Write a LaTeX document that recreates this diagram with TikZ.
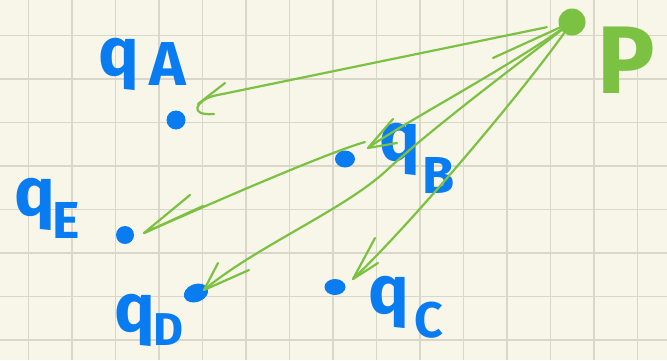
\documentclass[tikz,border=0pt]{standalone}
\usepackage{fontspec}
\setmainfont{Fira Sans}
\usetikzlibrary{shapes.geometric}
\definecolor{PaperCream}{HTML}{F8F5E9}
\definecolor{GridGray}{HTML}{DAD6C9}
\definecolor{InkBlue}{HTML}{0A7CF2}
\definecolor{InkGreen}{HTML}{7CC242}

\begin{document}
\begin{tikzpicture}[x=1pt,y=-1pt,
  dot/.style={circle, fill=InkBlue, inner sep=0pt, minimum size=19pt},
  blob/.style={ellipse, fill=InkBlue, inner sep=0pt},
  ink/.style={InkGreen, line width=2.2pt, line cap=round, line join=round},
  lbl/.style={InkBlue, font=\bfseries\fontsize{68}{68}\selectfont,
              inner sep=0pt, anchor=base west}]
  % Paper and grid
  \fill[PaperCream] (0,0) rectangle (667,360);
  \useasboundingbox (0,0) rectangle (667,360);
  \foreach \i in {0,...,14}
    \draw[GridGray, line width=1.5pt] (28.7+43.5*\i,0) -- (28.7+43.5*\i,360);
  \foreach \j in {0,...,7}
    \draw[GridGray, line width=1.5pt] (0,35.7+43.5*\j) -- (667,35.7+43.5*\j);
  % Points
  \node[circle, fill=InkGreen, inner sep=0pt, minimum size=27pt] (P) at (572,22) {};
  \node[dot] (qA) at (176,120) {};
  \node[blob, minimum width=20pt, minimum height=17pt] (qB) at (345,159) {};
  \node[dot, minimum size=18pt] (qE) at (125,235) {};
  \node[blob, minimum width=25pt, minimum height=18pt, rotate=20] (qD) at (196,293) {};
  \node[blob, minimum width=21pt, minimum height=16pt] (qC) at (335,287) {};
  % Labels
  \node[lbl] (lA) at (98,75) {q\kern10pt\raisebox{-10pt}{\fontsize{62}{62}\selectfont A}};
  \node[lbl] (lB) at (379,160) {q\kern2pt\raisebox{-33pt}{\fontsize{52}{52}\selectfont B}};
  \node[lbl] (lE) at (14,215) {q\kern-3pt\raisebox{-23pt}{\fontsize{52}{52}\selectfont E}};
  \node[lbl] (lD) at (114,331) {q\kern-2pt\raisebox{-14pt}{\fontsize{46}{46}\selectfont D}};
  \node[lbl] (lC) at (368,313) {q\kern5pt\raisebox{-24pt}{\fontsize{50}{50}\selectfont C}};
  \node[lbl, InkGreen, font=\bfseries\fontsize{96}{96}\selectfont] (lP) at (597,93) {P};
  % Arrows from P
  \coordinate (hA) at (213,96);
  \coordinate (tB) at (368,148);
  \coordinate (sE) at (365,142);
  \coordinate (tE) at (144,233);
  \coordinate (tD) at (204,290);
  \coordinate (tC) at (353,279);
  \coordinate (sS) at (493,58);
  \draw[ink, shorten <=12pt] (P) -- (hA) .. controls (196,101) and (188,116) .. (214,114);
  \draw[ink] (198,104) -- (225,83);
  \draw[ink] (P) -- (sS);
  \draw[ink] (P) .. controls (500,72) and (400,125) .. (tB);
  \draw[ink] (tB) -- ++(25,-29) (tB) -- ++(29,-5);
  \draw[ink] (sE) .. controls (330,152) and (230,195) .. (tE);
  \draw[ink] (tE) -- ++(46,-38) (tE) -- ++(59,-27);
  \draw[ink] (P) .. controls (510,70) and (430,130) .. (387,170)
    .. controls (344,210) and (255,247) .. (tD);
  \draw[ink] (tD) -- ++(14,-27) (tD) -- ++(45,-20);
  \draw[ink] (P) .. controls (520,95) and (410,225) .. (tC);
  \draw[ink] (tC) -- ++(22,-41) (tC) -- ++(25,-16);
\end{tikzpicture}
\end{document}
